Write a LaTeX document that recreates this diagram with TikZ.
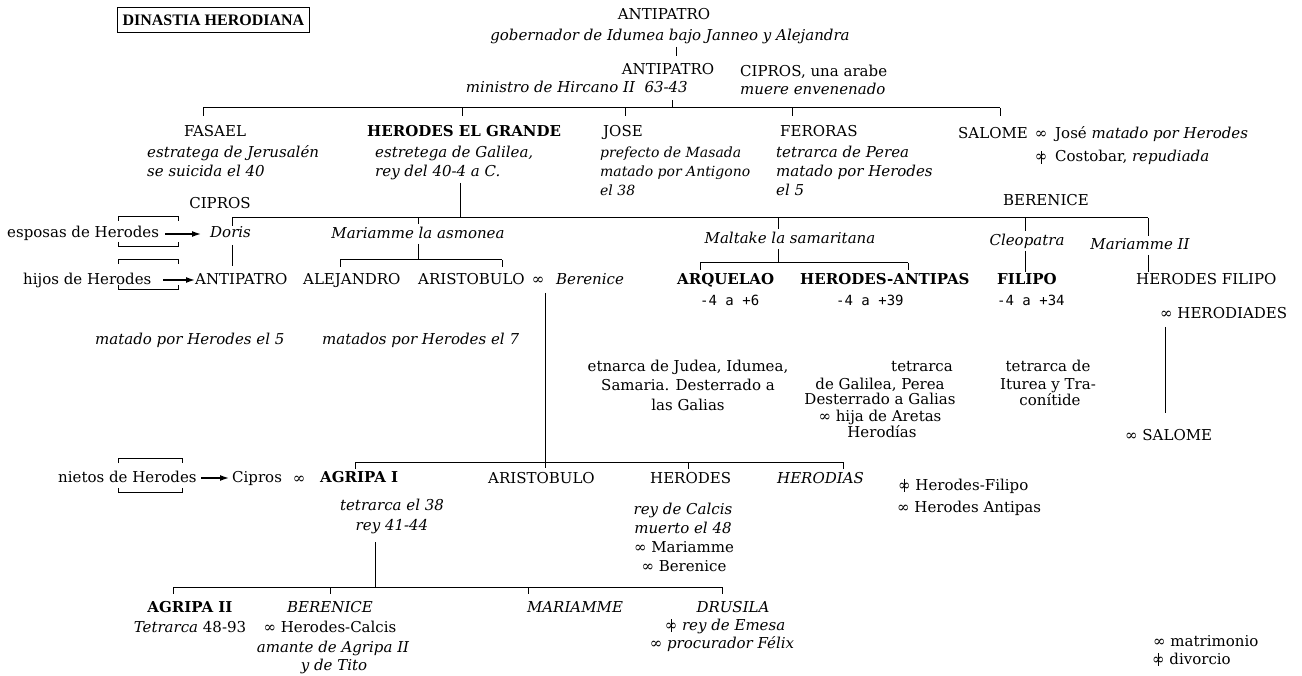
\documentclass[tikz,border=0pt]{standalone}
\usepackage{fontspec}
\setmainfont{DejaVu Serif}
\newfontfamily\datefont{DejaVu Sans Mono}
\newfontfamily\titlefont{Liberation Serif}
\usetikzlibrary{arrows.meta}
\newcommand{\mrg}{∞}
\newcommand{\dvc}{\ooalign{∞\cr\hidewidth\rule[-0.25ex]{0.6pt}{1.6ex}\hidewidth\cr}}
\begin{document}
\begin{tikzpicture}[x=1pt,y=-1pt,
  t/.style={inner sep=0pt,font=\fontsize{15}{19}\selectfont},
  tl/.style={t,anchor=base west},
  tc/.style={t,anchor=base},
  tr/.style={t,anchor=base east},
  ts/.style={inner sep=0pt,anchor=base west,font=\fontsize{14}{18}\selectfont},
  dt/.style={inner sep=0pt,anchor=base west,font=\fontsize{14}{17}\datefont},
  bar/.style={line width=1pt},
  tick/.style={line width=0.8pt},
  arr/.style={line width=1.4pt,-{Latex[length=9pt,width=6pt]}},
  brk/.style={line width=0.6pt}]
\useasboundingbox (0,0) rectangle (1302,676);

% title
\node[draw,line width=1pt,anchor=north west,inner xsep=5pt,minimum height=25pt,
      font=\titlefont\bfseries\fontsize{16}{18}\selectfont] (title) at (117,7) {DINASTIA HERODIANA};

% generation 0
\node[tc] (ant1) at (664,20) {ANTIPATRO};
\node[tc] (gob) at (670,41) {\itshape gobernador de Idumea bajo Janneo y Alejandra};
\coordinate (g1) at (676,47); \coordinate (g2) at (676,56);
\draw[tick] (g1) -- (g2);
\node[tc] (ant2) at (668,75) {ANTIPATRO};
\node[tr] (minis) at (688,93) {\itshape ministro de Hircano II\ \ 63-43};
\node[tl] (cip1) at (740,77) {CIPROS, una arabe};
\node[tl] (muere) at (740,95) {\itshape muere envenenado};

% bar L1
\coordinate (L1a) at (203,108); \coordinate (L1b) at (1000,108);
\draw[bar] (L1a) -- (L1b);
\coordinate (L1u) at (672,108);
\draw[tick] (L1u) -- ++(0,-8);
\foreach \xx in {203,462,625,792,1000} \draw[tick] (\xx,108) -- ++(0,8);

% generation 1
\node[tc] (fasael) at (215,137) {FASAEL};
\node[tl] (fas1) at (147,158) {\itshape estratega de Jerusalén};
\node[tl] (fas2) at (147,177) {\itshape se suicida el 40};
\node[tl] (herg) at (367,137) {\bfseries HERODES EL GRANDE};
\node[tl] (her1) at (375,158) {\itshape estretega de Galilea,};
\node[tl] (her2) at (375,177) {\itshape rey del 40-4 a C.};
\node[tl] (jose) at (603,137) {JOSE};
\node[ts] (jos1) at (600,158) {\itshape prefecto de Masada};
\node[ts] (jos2) at (600,177) {\itshape matado por Antigono};
\node[ts] (jos3) at (600,196) {\itshape el 38};
\node[tl] (fer) at (780,137) {FERORAS};
\node[tl] (fer1) at (776,158) {\itshape tetrarca de Perea};
\node[tl] (fer2) at (776,177) {\itshape matado por Herodes};
\node[tl] (fer3) at (776,196) {\itshape el 5};
\node[tl] (salome) at (958,139) {SALOME};
\node[tc] (sm1) at (1041,139) {\mrg};
\node[tl] (sal1) at (1055,139) {José \itshape matado por Herodes};
\node[tc] (sm2) at (1041,162) {\dvc};
\node[tl] (sal2) at (1055,162) {Costobar, \itshape repudiada};

% wives of Herodes
\node[tc] (cip2) at (220,209) {CIPROS};
\node[tc] (ber1) at (1046,206) {BERENICE};
\coordinate (hv1) at (460,183); \coordinate (hv2) at (460,218);
\draw[bar] (hv1) -- (hv2);
\coordinate (L2a) at (232,218); \coordinate (L2b) at (1148,218);
\draw[bar] (L2a) -- (L2b);

\node[tl] (esposas) at (7,238) {esposas de Herodes};
\node[tl] (doris) at (210,238) {\itshape Doris};
\node[tc] (mar1) at (418,239) {\itshape Mariamme la asmonea};
\node[tc] (malt) at (790,244) {\itshape Maltake la samaritana};
\node[tc] (cleo) at (1027,246) {\itshape Cleopatra};
\node[tc] (mar2) at (1140,250) {\itshape Mariamme II};
\coordinate (ea) at (165,234); \coordinate (eb) at (201,234);
\draw[arr] (ea) -- (eb);

% wife connectors
\draw[tick] (232,218) -- (232,226);
\draw[tick] (232,245) -- (232,266);
\draw[tick] (418,218) -- (418,224);
\draw[tick] (418,244) -- (418,260);
\coordinate (L3a1) at (340,260); \coordinate (L3a2) at (502,260);
\draw[bar] (L3a1) -- (L3a2);
\draw[tick] (L3a1) -- ++(0,7); \draw[tick] (L3a2) -- ++(0,7);
\draw[tick] (778,218) -- (778,229);
\draw[tick] (778,249) -- (778,263);
\coordinate (L3b1) at (700,263); \coordinate (L3b2) at (908,263);
\draw[bar] (L3b1) -- (L3b2);
\draw[tick] (L3b1) -- ++(0,7); \draw[tick] (L3b2) -- ++(0,7);
\draw[tick] (1025,218) -- (1025,231);
\draw[tick] (1025,251) -- (1025,272);
\draw[tick] (1148,218) -- (1148,236);
\draw[tick] (1148,255) -- (1148,272);

% sons of Herodes
\node[tl] (hijos) at (23,285) {hijos de Herodes};
\coordinate (ha) at (163,280); \coordinate (hb) at (195,280);
\draw[arr] (ha) -- (hb);
\node[tl] (antip3) at (195,285) {ANTIPATRO};
\node[tl] (alej) at (303,285) {ALEJANDRO};
\node[tl] (arist) at (418,285) {ARISTOBULO};
\node[tc] (am1) at (538,285) {\mrg};
\node[tl] (beren1) at (556,285) {\itshape Berenice};
\node[tl] (arq) at (677,285) {\bfseries ARQUELAO};
\node[tl] (hant) at (800,285) {\bfseries HERODES-ANTIPAS};
\node[tl] (fil) at (997,285) {\bfseries FILIPO};
\node[tl] (hfil) at (1136,285) {HERODES FILIPO};
\node[dt] (d1) at (700,306) {-4 a +6};
\node[dt] (d2) at (836,306) {-4 a +39};
\node[dt] (d3) at (997,306) {-4 a +34};
\node[tl] (herodiades) at (1160,319) {\mrg\ HERODIADES};

\node[tl] (mat1) at (95,345) {\itshape matado por Herodes el 5};
\node[tl] (mat2) at (322,345) {\itshape matados por Herodes el 7};

\node[tc] (etn1) at (688,372) {etnarca de Judea, Idumea,};
\node[tc] (etn2) at (688,391) {Samaria. Desterrado a};
\node[tc] (etn3) at (688,410) {las Galias};
\node[tc] (tet1) at (922,372) {tetrarca};
\node[tc] (tet2) at (880,389) {de Galilea, Perea};
\node[tc] (tet3) at (880,405) {Desterrado a Galias};
\node[tc] (tet4) at (880,421) {\mrg\ hija de Aretas};
\node[tc] (tet5) at (882,437) {Herodías};
\node[tc] (it1) at (1048,372) {tetrarca de};
\node[tc] (it2) at (1048,389) {Iturea y Tra-};
\node[tc] (it3) at (1050,406) {conítide};
\coordinate (hd1) at (1165,327); \coordinate (hd2) at (1165,413);
\draw[tick] (hd1) -- (hd2);
\node[tl] (salome2) at (1125,440) {\mrg\ SALOME};

% grandchildren
\coordinate (av1) at (545,293); \coordinate (av2) at (545,468);
\draw[bar] (av1) -- (av2);
\coordinate (L4a) at (355,462); \coordinate (L4b) at (843,462);
\draw[bar] (L4a) -- (L4b);
\foreach \xx in {355,688,843} \draw[tick] (\xx,462) -- ++(0,7);

\node[tl] (nietos) at (58,482) {nietos de Herodes};
\coordinate (na) at (201,478); \coordinate (nb) at (229,478);
\draw[arr] (na) -- (nb);
\node[tl] (cip3) at (232,482) {Cipros};
\node[tc] (am2) at (299,483) {\mrg};
\node[tl] (agr1) at (320,482) {\bfseries AGRIPA I};
\node[tc] (agr1a) at (392,510) {\itshape tetrarca el 38};
\node[tc] (agr1b) at (392,530) {\itshape rey 41-44};
\node[tl] (arist2) at (488,483) {ARISTOBULO};
\node[tl] (herod2) at (650,483) {HERODES};
\node[tc] (herod2a) at (683,514) {\itshape rey de Calcis};
\node[tc] (herod2b) at (683,533) {\itshape muerto el 48};
\node[tc] (herod2c) at (684,552) {\mrg\ Mariamme};
\node[tc] (herod2d) at (684,571) {\mrg\ Berenice};
\node[tl] (herodias) at (777,483) {\itshape HERODIAS};
\node[tl] (hds1) at (898,490) {\dvc\ Herodes-Filipo};
\node[tl] (hds2) at (897,512) {\mrg\ Herodes Antipas};

% great-grandchildren
\coordinate (ag1) at (375,542); \coordinate (ag2) at (375,587);
\draw[tick] (ag1) -- (ag2);
\coordinate (L5a) at (173,587); \coordinate (L5b) at (722,587);
\draw[bar] (L5a) -- (L5b);
\foreach \xx in {173,330,528,722} \draw[tick] (\xx,587) -- ++(0,7);

\node[tc] (agr2) at (190,612) {\bfseries AGRIPA II};
\node[tc] (agr2a) at (190,632) {\itshape Tetrarca \upshape 48-93};
\node[tc] (ber2) at (330,612) {\itshape BERENICE};
\node[tc] (ber2a) at (330,632) {\mrg\ Herodes-Calcis};
\node[tc] (ber2b) at (333,652) {\itshape amante de Agripa II};
\node[tc] (ber2c) at (334,670) {\itshape y de Tito};
\node[tc] (mar3) at (575,612) {\itshape MARIAMME};
\node[tc] (dru) at (733,612) {\itshape DRUSILA};
\node[tc] (dru1) at (725,630) {\dvc\ \itshape rey de Emesa};
\node[tc] (dru2) at (722,648) {\mrg\ \itshape procurador Félix};

% legend
\node[tl] (leg1) at (1153,646) {\mrg\ matrimonio};
\node[tl] (leg2) at (1152,664) {\dvc\ divorcio};

% brackets
\draw[brk] (118,221) -- (118,216) -- (178,216) -- (178,221);
\draw[brk] (118,242) -- (118,246) -- (178,246) -- (178,242);
\draw[brk] (118,264) -- (118,259) -- (178,259) -- (178,264);
\draw[brk] (118,285) -- (118,289) -- (178,289) -- (178,285);
\draw[brk] (118,463) -- (118,458) -- (182,458) -- (182,463);
\draw[brk] (118,488) -- (118,492) -- (182,492) -- (182,488);
\end{tikzpicture}
\end{document}
